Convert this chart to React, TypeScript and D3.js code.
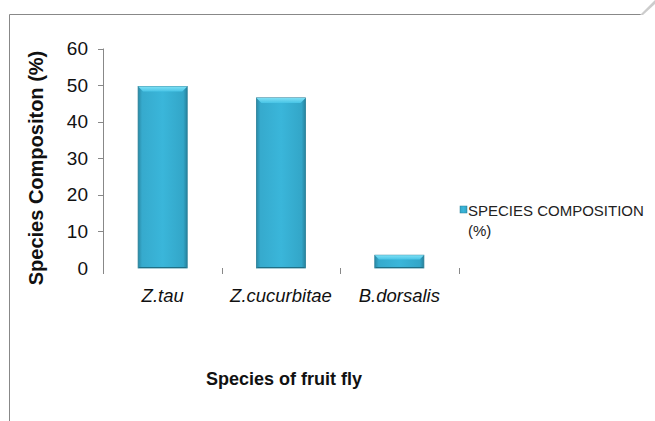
import React from "react";
import * as d3 from "d3";

const categories = ["Z.tau", "Z.cucurbitae", "B.dorsalis"];
const values = [49.6, 46.5, 3.5];
const yTicks = [0, 10, 20, 30, 40, 50, 60];
const seriesName = ["SPECIES COMPOSITION", "(%)"];
const xTitle = "Species of fruit fly";
const yTitle = "Species Compositon (%)";

export default function App() {
  const W = 655, H = 421;
  const x = d3.scaleBand<string>().domain(categories).range([103.5, 458.5]).paddingInner(0.585).paddingOuter(0.2925);
  const y = d3.scaleLinear().domain([0, 60]).range([268, 48.5]);
  const bandStep = x.step();
  const font = "'Liberation Sans', Arial, sans-serif";
  return (
    <svg width={W} height={H} style={{ position: "absolute", left: 0, top: 0, background: "#fff" }}>
      <defs>
        <linearGradient id="barH" x1="0" x2="1" y1="0" y2="0">
          <stop offset="0" stopColor="#2a8aa6" />
          <stop offset="0.08" stopColor="#36aacd" />
          <stop offset="0.5" stopColor="#3ab6da" />
          <stop offset="0.92" stopColor="#33a6c8" />
          <stop offset="1" stopColor="#27829d" />
        </linearGradient>
        <linearGradient id="barTop" x1="0" x2="0" y1="0" y2="1">
          <stop offset="0" stopColor="#7fe0f5" />
          <stop offset="1" stopColor="#48c4e6" />
        </linearGradient>
      </defs>
      {/* frame */}
      <line x1={9.5} y1={14.5} x2={642} y2={14.5} stroke="#888" strokeWidth={1} />
      <line x1={9.5} y1={14.5} x2={9.5} y2={421} stroke="#888" strokeWidth={1} />
      <polygon points="640,15 655,0 655,4 643,15" fill="#ccc" />
      {/* y axis */}
      <line x1={103.5} y1={y(60)} x2={103.5} y2={274} stroke="#888" />
      {yTicks.map((t) => (
        <g key={t}>
          {t > 0 && <line x1={98} x2={103.5} y1={Math.round(y(t)) + 0.5} y2={Math.round(y(t)) + 0.5} stroke="#888" />}
          <text x={88} y={y(t)} dy="0.35em" textAnchor="end" fontFamily={font} fontSize={19} fill="#111">{t}</text>
        </g>
      ))}
      {/* category ticks */}
      {categories.map((c, i) => {
        const tx = Math.round(103.5 + bandStep * (i + 1)) + 0.5;
        return <line key={c} x1={tx} x2={tx} y1={268} y2={274} stroke="#888" />;
      })}
      {/* bars */}
      {categories.map((c, i) => {
        const bx = x(c)!;
        const bw = x.bandwidth();
        const by = y(values[i]);
        const bh = y(0) - by;
        const bev = Math.min(5, bh / 3);
        return (
          <g key={c}>
            <rect x={bx} y={by} width={bw} height={bh} fill="url(#barH)" stroke="#2a7f97" strokeWidth={0.8} />
            <polygon points={`${bx},${by} ${bx + bw},${by} ${bx + bw - bev},${by + bev} ${bx + bev},${by + bev}`} fill="url(#barTop)" />
            <line x1={bx + 1} x2={bx + bw - 1} y1={y(0) - 0.5} y2={y(0) - 0.5} stroke="#1f6f86" strokeWidth={1.2} />
          </g>
        );
      })}
      {/* category labels */}
      {categories.map((c) => (
        <text key={c} x={x(c)! + x.bandwidth() / 2} y={302} textAnchor="middle" fontFamily={font} fontStyle="italic" fontSize={18.5} fill="#111">{c}</text>
      ))}
      {/* axis titles */}
      <text x={284} y={385} textAnchor="middle" fontFamily={font} fontWeight="bold" fontSize={18} fill="#111">{xTitle}</text>
      <text transform={`translate(43,${168}) rotate(-90)`} textAnchor="middle" fontFamily={font} fontWeight="bold" fontSize={20} fill="#111">{yTitle}</text>
      {/* legend */}
      <rect x={460} y={206} width={7} height={7} fill="url(#barH)" stroke="#2a7f97" strokeWidth={0.5} />
      <text x={468} y={216} fontFamily={font} fontSize={15} fill="#222">{seriesName[0]}</text>
      <text x={468} y={236} fontFamily={font} fontSize={15} fill="#222">{seriesName[1]}</text>
    </svg>
  );
}
